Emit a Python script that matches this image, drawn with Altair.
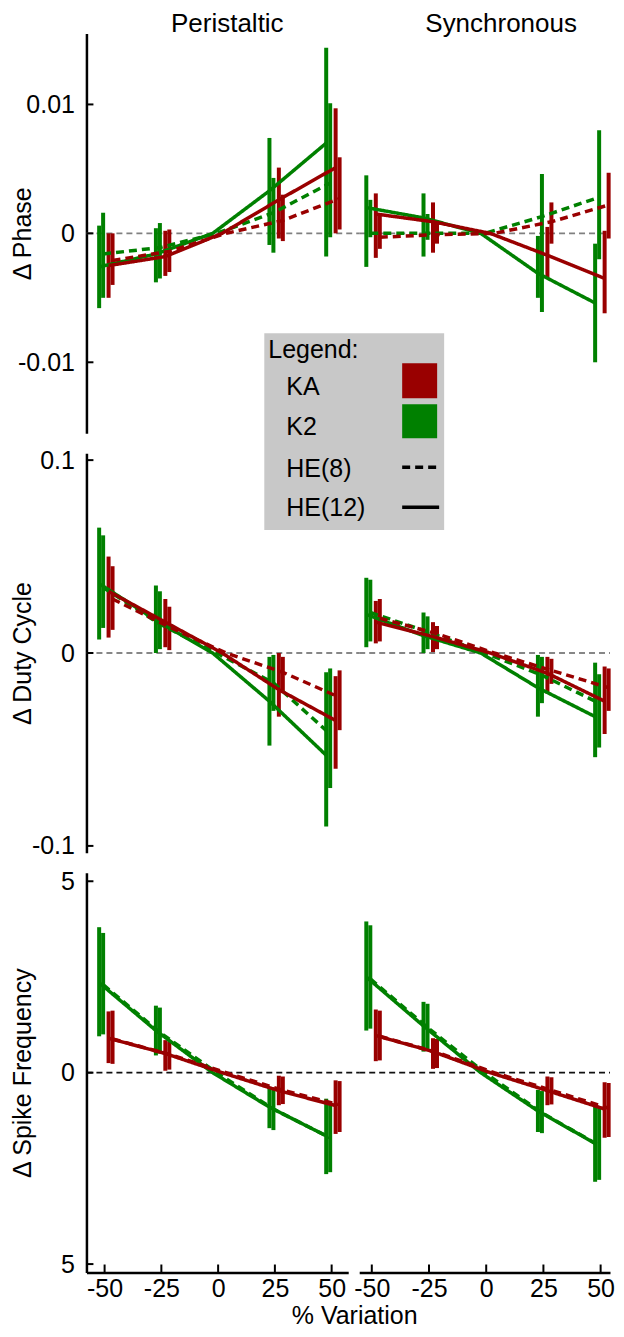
import altair as alt
import pandas as pd

# ---------------- data ----------------
X_LEVELS = [-50, -25, 25, 50]
X_TICKS = [-50, -25, 0, 25, 50]
SERIES = ["K2 HE(12)", "K2 HE(8)", "KA HE(12)", "KA HE(8)"]
SERIES_MODEL = ["K2", "K2", "KA", "KA"]
SERIES_HE = ["HE(12)", "HE(8)", "HE(12)", "HE(8)"]
PATTERNS = ["Peristaltic", "Synchronous"]
MEASURES = ["Δ Phase", "Δ Duty Cycle", "Δ Spike Frequency"]
X_TITLE = "% Variation"
LEGEND_TITLE = ["Legend:"]
LEGEND_MODELS = ["KA", "K2"]
LEGEND_HE = ["HE(8)", "HE(12)"]

# rows of each array follow SERIES order; columns follow X_LEVELS
PER_PHASE_MEAN = [[-0.0026, -0.0016, 0.0033, 0.0070],
                  [-0.0016, -0.0011, 0.0016, 0.0039],
                  [-0.0025, -0.0018, 0.0026, 0.0051],
                  [-0.0021, -0.0014, 0.0010, 0.0027]]
PER_PHASE_LO = [[-0.0058, -0.0038, -0.0009, -0.0018],
                [-0.0050, -0.0035, -0.0015, -0.0003],
                [-0.0050, -0.0033, -0.0004, 0.0000],
                [-0.0040, -0.0030, -0.0006, 0.0003]]
PER_PHASE_HI = [[0.0006, 0.0004, 0.0074, 0.0144],
                [0.0016, 0.0008, 0.0043, 0.0101],
                [0.0000, 0.0002, 0.0051, 0.0097],
                [0.0000, 0.0003, 0.0030, 0.0059]]

SYN_PHASE_MEAN = [[0.0020, 0.0012, -0.0031, -0.0054],
                  [0.0000, 0.0000, 0.0013, 0.0028],
                  [0.0015, 0.0009, -0.0017, -0.0035],
                  [-0.0003, -0.0001, 0.0009, 0.0022]]
SYN_PHASE_LO = [[-0.0026, -0.0018, -0.0050, -0.0100],
                [-0.0003, -0.0005, -0.0061, -0.0020],
                [-0.0019, -0.0015, -0.0035, -0.0062],
                [-0.0012, -0.0008, -0.0008, -0.0004]]
SYN_PHASE_HI = [[0.0045, 0.0031, -0.0002, -0.0008],
                [0.0026, 0.0015, 0.0046, 0.0080],
                [0.0031, 0.0024, 0.0005, 0.0002],
                [0.0015, 0.0010, 0.0024, 0.0047]]

PER_DUTY_MEAN = [[0.036, 0.017, -0.025, -0.053],
                 [0.034, 0.015, -0.0155, -0.042],
                 [0.032, 0.016, -0.019, -0.035],
                 [0.028, 0.0135, -0.010, -0.023]]
PER_DUTY_LO = [[0.007, 0.000, -0.048, -0.090],
               [0.013, 0.002, -0.030, -0.070],
               [0.008, 0.003, -0.033, -0.060],
               [0.012, 0.0015, -0.020, -0.040]]
PER_DUTY_HI = [[0.065, 0.035, -0.002, -0.010],
               [0.061, 0.032, -0.001, -0.008],
               [0.050, 0.028, 0.000, -0.012],
               [0.045, 0.024, -0.002, -0.009]]

SYN_DUTY_MEAN = [[0.020, 0.009, -0.018, -0.033],
                 [0.021, 0.011, -0.0115, -0.026],
                 [0.016, 0.0085, -0.0105, -0.025],
                 [0.018, 0.010, -0.009, -0.018]]
SYN_DUTY_LO = [[0.003, 0.000, -0.033, -0.054],
               [0.006, 0.002, -0.026, -0.049],
               [0.005, 0.0005, -0.021, -0.042],
               [0.006, 0.002, -0.016, -0.030]]
SYN_DUTY_HI = [[0.039, 0.021, -0.001, -0.005],
               [0.038, 0.019, -0.002, -0.011],
               [0.027, 0.016, -0.002, -0.007],
               [0.028, 0.014, -0.003, -0.008]]

PER_SPIKE_MEAN = [[2.35, 1.10, -0.90, -1.65],
                  [2.30, 1.05, -0.95, -1.70],
                  [0.90, 0.50, -0.47, -0.86],
                  [0.88, 0.48, -0.46, -0.84]]
PER_SPIKE_LO = [[0.95, 0.45, -1.45, -2.65],
                [1.00, 0.50, -1.50, -2.60],
                [0.25, 0.05, -0.85, -1.60],
                [0.23, 0.08, -0.82, -1.55]]
PER_SPIKE_HI = [[3.80, 1.75, -0.40, -0.68],
                [3.65, 1.70, -0.45, -0.75],
                [1.60, 0.85, -0.08, -0.20],
                [1.62, 0.82, -0.10, -0.22]]

SYN_SPIKE_MEAN = [[2.50, 1.22, -1.00, -1.85],
                  [2.45, 1.18, -1.05, -1.90],
                  [0.97, 0.55, -0.47, -0.95],
                  [0.95, 0.53, -0.46, -0.93]]
SYN_SPIKE_LO = [[1.10, 0.55, -1.55, -2.85],
                [1.15, 0.58, -1.58, -2.80],
                [0.30, 0.10, -0.85, -1.70],
                [0.32, 0.12, -0.83, -1.68]]
SYN_SPIKE_HI = [[3.95, 1.85, -0.45, -0.85],
                [3.85, 1.80, -0.48, -0.88],
                [1.65, 0.90, -0.10, -0.25],
                [1.62, 0.88, -0.12, -0.27]]

# ---------------- style ----------------
FONT = "Liberation Sans, Arial, sans-serif"
RED = "#990000"
GREEN = "#008000"
DODGE = {"K2 HE(12)": -2.4, "K2 HE(8)": -0.65, "KA HE(12)": 1.75, "KA HE(8)": 3.5}
COL_GAP = 11
COL_WIDTH = [262, 251]
COL_XDOM = [[-58, 57.3], [-55.5, 54.1]]
COL_TITLE_X = [141, 142]
ROW_H = 400
ROW_YDOM = [[-0.0155, 0.0155], [-0.1036, 0.1036], [-5.22, 5.22]]
ROW_YTICKS = [[-0.01, 0, 0.01], [-0.1, 0, 0.1], [-5, 0, 5]]
ROW_ZERO = ["#808080", "#606060", "#111111"]
MINUS_FIX = "replace(format(datum.value, '~g'), '\u2212', '-')"
ROW_LABEL_EXPR = [MINUS_FIX, MINUS_FIX, "datum.value < 0 ? '5' : format(datum.value, '~g')"]

color_scale = alt.Scale(domain=["K2", "KA"], range=[GREEN, RED])
dash_scale = alt.Scale(domain=["HE(8)", "HE(12)"], range=[[8, 5], [1, 0]])


def build_df(mean, lo, hi):
    rows = []
    for si, s in enumerate(SERIES):
        off = DODGE[s]
        for xi, x in enumerate(X_LEVELS):
            rows.append(dict(series=s, model=SERIES_MODEL[si], he=SERIES_HE[si],
                             x=x, xp=x + off, mean=mean[si][xi],
                             lo=lo[si][xi], hi=hi[si][xi]))
        rows.append(dict(series=s, model=SERIES_MODEL[si], he=SERIES_HE[si],
                         x=0, xp=0 + off, mean=0.0, lo=None, hi=None))
    return pd.DataFrame(rows)


PANEL_DATA = [
    [(PER_PHASE_MEAN, PER_PHASE_LO, PER_PHASE_HI), (SYN_PHASE_MEAN, SYN_PHASE_LO, SYN_PHASE_HI)],
    [(PER_DUTY_MEAN, PER_DUTY_LO, PER_DUTY_HI), (SYN_DUTY_MEAN, SYN_DUTY_LO, SYN_DUTY_HI)],
    [(PER_SPIKE_MEAN, PER_SPIKE_LO, PER_SPIKE_HI), (SYN_SPIKE_MEAN, SYN_SPIKE_LO, SYN_SPIKE_HI)],
]


def legend_layers():
    layers = []
    one = pd.DataFrame({"k": [0]})
    layers.append(alt.Chart(one).mark_rect(color="#c8c8c8").encode(
        x=alt.value(178), x2=alt.value(358), y=alt.value(-120), y2=alt.value(77)))
    layers.append(alt.Chart(pd.DataFrame({"t": LEGEND_TITLE})).mark_text(
        font=FONT, fontSize=25, align="left", baseline="middle", color="black").encode(
        x=alt.value(182), y=alt.value(-103), text="t:N"))
    ys_text = [-66, -26, 16, 55]
    labels = LEGEND_MODELS + LEGEND_HE
    for lab, yy in zip(labels, ys_text):
        layers.append(alt.Chart(pd.DataFrame({"t": [lab]})).mark_text(
            font=FONT, fontSize=25, align="left", baseline="middle", color="black").encode(
            x=alt.value(200), y=alt.value(yy), text="t:N"))
    for model, (y1, y2) in zip(LEGEND_MODELS, [(-90, -55), (-49, -15)]):
        layers.append(alt.Chart(pd.DataFrame({"m": [model]})).mark_rect().encode(
            x=alt.value(316), x2=alt.value(351), y=alt.value(y1), y2=alt.value(y2),
            color=alt.Color("m:N", scale=color_scale, legend=None)))
    for he, yy in zip(LEGEND_HE, [14, 54]):
        layers.append(alt.Chart(pd.DataFrame({"h": [he]})).mark_rule(
            color="black", strokeWidth=3.5).encode(
            x=alt.value(316), x2=alt.value(353), y=alt.value(yy),
            strokeDash=alt.StrokeDash("h:N", scale=dash_scale, legend=None)))
    return layers


def make_panel(r, c):
    mean, lo, hi = PANEL_DATA[r][c]
    df = build_df(mean, lo, hi)
    w = COL_WIDTH[c]
    xs = alt.Scale(domain=COL_XDOM[c], nice=False, zero=False)
    ys = alt.Scale(domain=ROW_YDOM[r], nice=False, zero=False)
    if r == 2:
        xaxis = alt.Axis(values=X_TICKS, ticks=False, grid=False, domainColor="black",
                         domainWidth=2.5, labelExpr=MINUS_FIX, labelFontSize=25,
                         labelPadding=4, labelFlush=False, labelColor="black",
                         labelOverlap=False,
                         title=X_TITLE if c == 0 else None,
                         titleFontSize=25, titleFontWeight="normal", titleColor="black",
                         titleX=268, titlePadding=2)
    else:
        xaxis = None
    if c == 0:
        yaxis = alt.Axis(values=ROW_YTICKS[r], ticks=False, grid=False, domainColor="black",
                         domainWidth=2.5, labelExpr=ROW_LABEL_EXPR[r], labelFontSize=25,
                         labelPadding=12, labelFlush=False, labelColor="black",
                         labelOverlap=False,
                         title=MEASURES[r], titleFontSize=25, titleFontWeight="normal",
                         titleColor="black", titleX=-64, titleBaseline="middle")
    else:
        yaxis = None

    layers = []
    # zero reference line
    layers.append(alt.Chart(pd.DataFrame({"v": [0]})).mark_rule(
        strokeDash=[6, 4], strokeWidth=1.6, color=ROW_ZERO[r]).encode(
        y=alt.Y("v:Q", scale=ys, axis=yaxis), x=alt.value(0),
        x2=alt.value(w + (COL_GAP if c == 0 else 0))))
    # inner y ticks
    if c == 0:
        layers.append(alt.Chart(pd.DataFrame({"v": ROW_YTICKS[r]})).mark_rule(
            color="black", strokeWidth=2).encode(
            y=alt.Y("v:Q", scale=ys, axis=yaxis), x=alt.value(0), x2=alt.value(7)))
    # inner x ticks
    if r == 2:
        layers.append(alt.Chart(pd.DataFrame({"v": X_TICKS})).mark_rule(
            color="black", strokeWidth=2).encode(
            x=alt.X("v:Q", scale=xs, axis=xaxis), y=alt.value(ROW_H), y2=alt.value(ROW_H - 8)))
    # error bars
    layers.append(alt.Chart(df.dropna()).mark_rule(strokeWidth=4).encode(
        x=alt.X("xp:Q", scale=xs, axis=xaxis),
        y=alt.Y("lo:Q", scale=ys, axis=yaxis),
        y2="hi:Q",
        color=alt.Color("model:N", scale=color_scale, legend=None)))
    # mean lines
    layers.append(alt.Chart(df).mark_line(strokeWidth=3.5).encode(
        x=alt.X("xp:Q", scale=xs, axis=xaxis),
        y=alt.Y("mean:Q", scale=ys, axis=yaxis),
        color=alt.Color("model:N", scale=color_scale, legend=None),
        strokeDash=alt.StrokeDash("he:N", scale=dash_scale, legend=None),
        detail="series:N"))
    if r == 0:
        layers.append(alt.Chart(pd.DataFrame({"t": [PATTERNS[c]]})).mark_text(
            font=FONT, fontSize=26, align="center", baseline="alphabetic", color="black").encode(
            x=alt.value(COL_TITLE_X[c]), y=alt.value(-2), text="t:N"))
    if r == 1 and c == 0:
        layers += legend_layers()

    return alt.layer(*layers).properties(width=w, height=ROW_H)


panels = [make_panel(r, c) for r in range(3) for c in range(2)]

chart = alt.concat(*panels, columns=2, spacing={"row": 20, "column": COL_GAP},
                   bounds="flush").resolve_scale(
    x="independent", y="independent").properties(
    padding={"left": 2.5, "top": 2, "right": 0, "bottom": 0},
    background="white").configure_view(stroke=None).configure_axis(
    labelFont=FONT, titleFont=FONT)

chart.save("out.html", embed_options={"renderer": "svg", "actions": False})
